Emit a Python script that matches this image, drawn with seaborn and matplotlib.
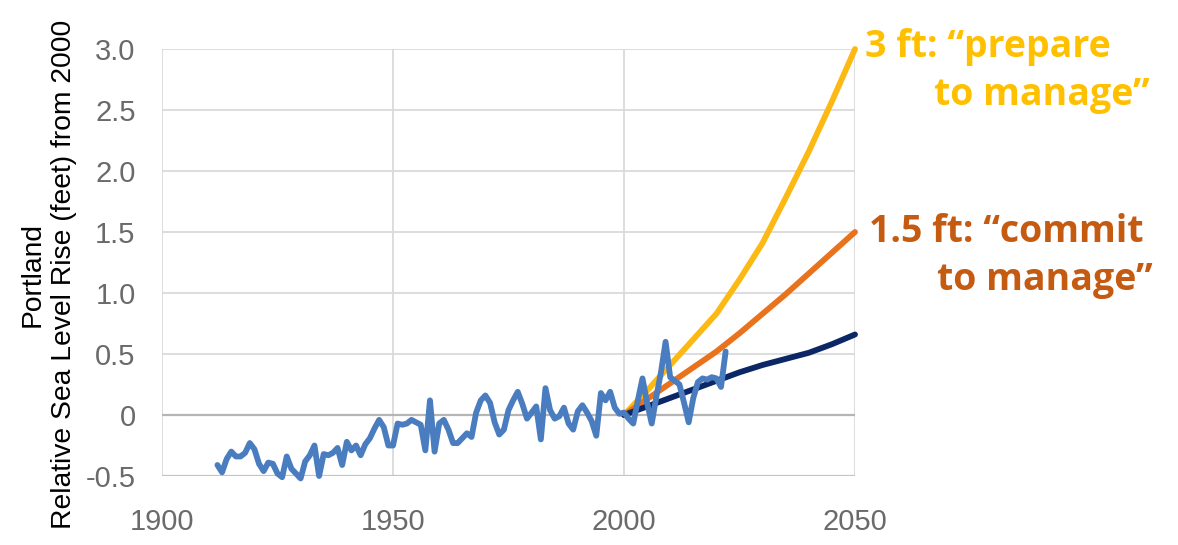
import numpy as np
import pandas as pd
import matplotlib
matplotlib.use("Agg")
import matplotlib.pyplot as plt
import seaborn as sns

# observed annual relative sea level, Portland (feet, relative to 2000)
obs_years = list(range(1912, 2023))
obs_values = [
    -0.41, -0.47, -0.36, -0.30, -0.34, -0.34, -0.31, -0.23, -0.28, -0.40,  # 1912-1921
    -0.46, -0.39, -0.40, -0.48, -0.51, -0.34, -0.44, -0.48, -0.52, -0.38,  # 1922-1931
    -0.33, -0.25, -0.50, -0.32, -0.33, -0.31, -0.27, -0.41, -0.22, -0.29,  # 1932-1941
    -0.25, -0.33, -0.24, -0.19, -0.11, -0.04, -0.10, -0.25, -0.25, -0.07,  # 1942-1951
    -0.08, -0.07, -0.04, -0.06, -0.08, -0.29, 0.12, -0.30, -0.07, -0.04,   # 1952-1961
    -0.12, -0.23, -0.23, -0.19, -0.15, -0.18, 0.02, 0.12, 0.16, 0.10,      # 1962-1971
    -0.06, -0.16, -0.12, 0.04, 0.12, 0.19, 0.09, -0.03, 0.02, 0.07,        # 1972-1981
    -0.20, 0.22, 0.04, -0.03, -0.01, 0.06, -0.07, -0.12, 0.03, 0.08,       # 1982-1991
    0.02, -0.05, -0.17, 0.18, 0.12, 0.19, 0.06, 0.01, 0.02, -0.03,         # 1992-2001
    -0.07, 0.12, 0.30, 0.10, -0.07, 0.15, 0.35, 0.60, 0.31, 0.28,          # 2002-2011
    0.25, 0.10, -0.06, 0.14, 0.27, 0.30, 0.29, 0.31, 0.30, 0.23,           # 2012-2021
    0.52,                                                                  # 2022
]

# projection scenarios from 2000
proj_years = [2000, 2005, 2010, 2015, 2020, 2025, 2030, 2035, 2040, 2045, 2050]
proj_low = [0.0, 0.07, 0.14, 0.21, 0.28, 0.35, 0.41, 0.46, 0.51, 0.58, 0.66]
proj_mid = [0.0, 0.13, 0.26, 0.39, 0.52, 0.67, 0.83, 0.99, 1.16, 1.33, 1.50]
proj_high = [0.0, 0.20, 0.41, 0.62, 0.83, 1.11, 1.41, 1.78, 2.16, 2.57, 3.0]

y_ticks = [3.0, 2.5, 2.0, 1.5, 1.0, 0.5, 0.0, -0.5]
y_tick_labels = ["3.0", "2.5", "2.0", "1.5", "1.0", "0.5", "0", "-0.5"]
x_ticks = [1900, 1950, 2000, 2050]

obs_df = pd.DataFrame({"year": obs_years, "rise": obs_values})
proj_df = pd.DataFrame({"year": proj_years, "low": proj_low,
                        "mid": proj_mid, "high": proj_high})

sns.set_style("white")
plt.rcParams["font.family"] = ["Liberation Sans", "DejaVu Sans"]

fig = plt.figure(figsize=(11.78, 5.45), dpi=100)
ax = fig.add_axes([162 / 1178, 1 - 476 / 545, (855 - 162) / 1178, (476 - 49) / 545])

grid_col = "#dadada"
ax.set_xlim(1900, 2050)
ax.set_ylim(-0.5, 3.0)
ax.set_xticks(x_ticks)
ax.set_yticks(y_ticks)
ax.set_yticklabels(y_tick_labels)
ax.grid(True, color=grid_col, lw=1.3, zorder=0)
for s in ax.spines.values():
    s.set_visible(False)
ax.axhline(0, color="#b5b5b5", lw=1.6, zorder=1)
ax.axhline(-0.5, color="#c4c4c4", lw=1.6, zorder=1)
ax.tick_params(axis="y", length=18, width=1.3, color=grid_col, pad=1,
               labelsize=21, labelcolor="#6a6a6a")
ax.tick_params(axis="x", length=21, width=1.3, color=grid_col, pad=2,
               labelsize=21, labelcolor="#6a6a6a")

lw = 4.2
sns.lineplot(data=proj_df, x="year", y="high", ax=ax, color="#fdb913", lw=lw,
             zorder=3, clip_on=False)
sns.lineplot(data=proj_df, x="year", y="mid", ax=ax, color="#e8731c", lw=lw,
             zorder=3, clip_on=False)
sns.lineplot(data=proj_df, x="year", y="low", ax=ax, color="#0b2766", lw=lw,
             zorder=3, clip_on=False)
sns.lineplot(data=obs_df, x="year", y="rise", ax=ax, color="#4a7dc0", lw=lw,
             zorder=4, clip_on=False)
ax.set_xlabel("")
ax.set_ylabel("")

fig.text(0.041, 0.497, "Portland\nRelative Sea Level Rise (feet) from 2000",
         rotation=90, ha="center", va="center", multialignment="center",
         fontsize=20.3, color="black", linespacing=1.28)

note_font = ["Open Sans", "DejaVu Sans"]
gold = "#ffc000"
rust = "#c55a11"
fig.text(865 / 1178, 1 - 57 / 545, "3 ft: \u201cprepare", color=gold,
         fontsize=27, fontweight="bold", family=note_font, va="baseline")
fig.text(934 / 1178, 1 - 105 / 545, "to manage\u201d", color=gold,
         fontsize=27, fontweight="bold", family=note_font, va="baseline")
fig.text(869 / 1178, 1 - 242 / 545, "1.5 ft: \u201ccommit", color=rust,
         fontsize=27, fontweight="bold", family=note_font, va="baseline")
fig.text(937 / 1178, 1 - 290 / 545, "to manage\u201d", color=rust,
         fontsize=27, fontweight="bold", family=note_font, va="baseline")

fig.savefig("out.png", dpi=100)
